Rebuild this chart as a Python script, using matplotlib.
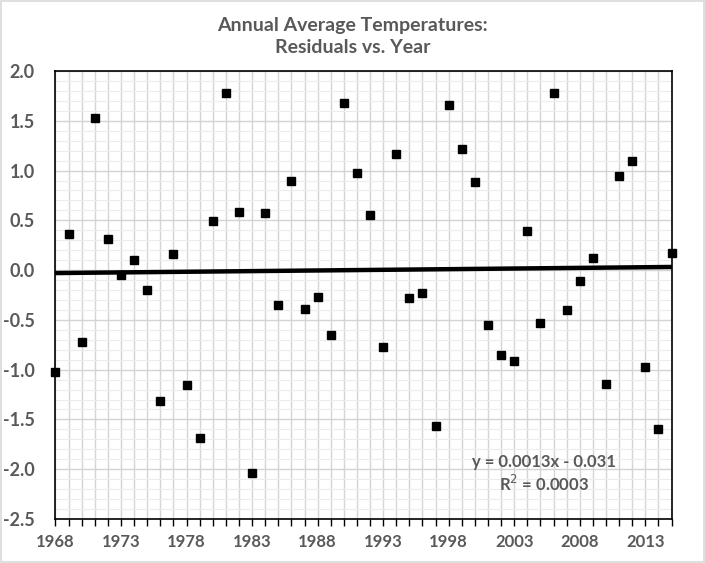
import numpy as np
import matplotlib.pyplot as plt
from matplotlib.patches import Rectangle
from matplotlib.ticker import MultipleLocator

years = list(range(1968, 2016))
residuals = [-1.02, 0.36, -0.72, 1.53, 0.31, -0.05, 0.10, -0.20, -1.31, 0.16,
             -1.15, -1.69, 0.49, 1.78, 0.58, -2.04, 0.57, -0.35, 0.90, -0.39,
             -0.27, -0.65, 1.68, 0.98, 0.55, -0.77, 1.17, -0.28, -0.23, -1.57,
             1.66, 1.22, 0.88, -0.55, -0.85, -0.91, 0.39, -0.53, 1.78, -0.40,
             -0.11, 0.12, -1.14, 0.95, 1.10, -0.97, -1.60, 0.17]

# trend line from the displayed equation (x = point index 1..n)
slope = 0.0013
intercept = -0.031

grey = '#595959'
plt.rcParams['font.family'] = ['Lato', 'DejaVu Sans']

fig = plt.figure(figsize=(7.05, 5.63), dpi=100)
fig.patches.append(Rectangle((0.002, 0.002), 0.996, 0.996, transform=fig.transFigure,
                             fill=False, edgecolor='#d9d9d9', linewidth=1.2))
ax = fig.add_axes([0.0787, 0.0782, 0.8738, 0.7957])

idx = np.arange(1, len(years) + 1)
trend = slope * idx + intercept
ax.plot(years, trend, color='black', linewidth=3.2, zorder=3)
ax.plot(years, residuals, linestyle='none', marker='s', markersize=5.2,
        color='black', clip_on=False, zorder=4)

ax.set_xlim(1968, 2015)
ax.set_ylim(-2.5, 2.0)
ax.xaxis.set_minor_locator(MultipleLocator(1))
ax.set_xticks(range(1968, 2015, 5))
ax.yaxis.set_major_locator(MultipleLocator(0.5))
ax.yaxis.set_minor_locator(MultipleLocator(0.1))
ax.yaxis.set_major_formatter(plt.FormatStrFormatter('%.1f'))

ax.grid(which='major', axis='y', color='#d4d4d4', linewidth=1.0)
ax.grid(which='minor', axis='y', color='#ececec', linewidth=0.8)
ax.grid(which='both', axis='x', color='#d4d4d4', linewidth=1.0)
ax.set_axisbelow(True)

ax.tick_params(axis='x', which='both', direction='out', length=5, width=1,
               color='black', pad=6)
ax.tick_params(axis='y', which='both', length=0, pad=15)
for lab in ax.get_xticklabels():
    lab.set_fontsize(12)
    lab.set_fontweight('bold')
    lab.set_color(grey)
for lab in ax.get_yticklabels():
    lab.set_fontsize(13)
    lab.set_fontweight('bold')
    lab.set_color(grey)
for s in ax.spines.values():
    s.set_color('black')
    s.set_linewidth(1.2)

fig.text(0.5, 0.935, 'Annual Average Temperatures:\nResiduals vs. Year', ha='center',
         va='center', fontsize=14, fontweight='bold', color=grey, linespacing=1.35)

ax.text(2005.3, -1.93, 'y = 0.0013x - 0.031', ha='center', va='center',
        fontsize=12, fontweight='bold', color=grey)
ax.text(2005.3, -2.15, 'R$^2$ = 0.0003', ha='center', va='center',
        fontsize=12, fontweight='bold', color=grey)

fig.savefig('out.png', dpi=100)
